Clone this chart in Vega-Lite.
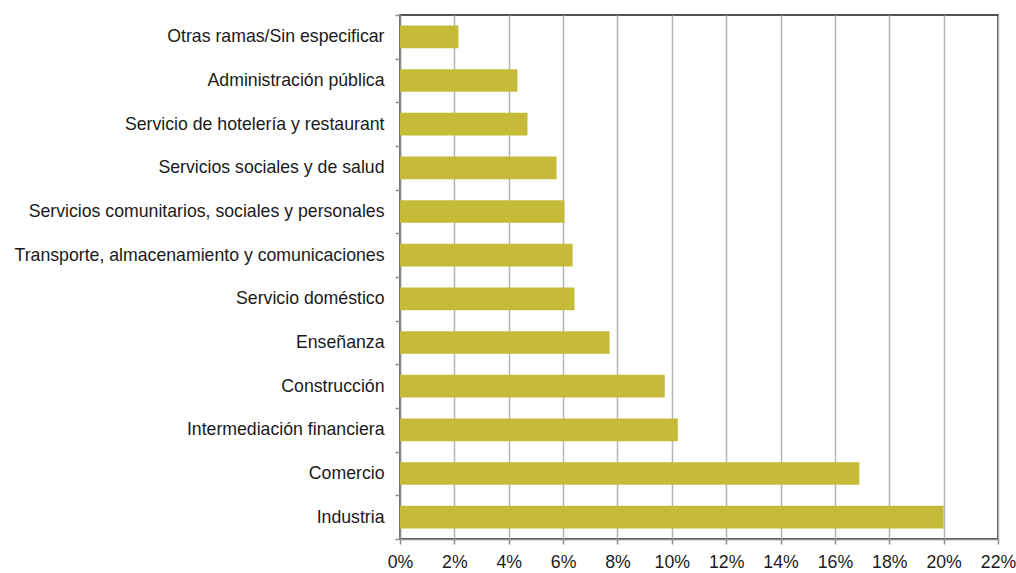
{
  "$schema": "https://vega.github.io/schema/vega-lite/v6.json",
  "width": 598,
  "height": 524,
  "autosize": {"type": "none"},
  "padding": {"left": 400, "top": 15, "right": 18, "bottom": 34},
  "background": "white",
  "config": {
    "view": {"stroke": "#1a1a1a", "strokeWidth": 1.5},
    "font": "Liberation Sans"
  },
  "data": {
    "values": [
      {"rama": "Otras ramas/Sin especificar\u00a0", "valor": 0.0215},
      {"rama": "Administración pública", "valor": 0.0432},
      {"rama": "Servicio de hotelería y restaurant\u00a0", "valor": 0.0469},
      {"rama": "Servicios sociales y de salud\u00a0", "valor": 0.0576},
      {"rama": "Servicios comunitarios, sociales y personales\u00a0\u00a0", "valor": 0.0605},
      {"rama": "Transporte, almacenamiento y comunicaciones\u00a0", "valor": 0.0635},
      {"rama": "Servicio doméstico", "valor": 0.0642},
      {"rama": "Enseñanza", "valor": 0.0771},
      {"rama": "Construcción", "valor": 0.0974},
      {"rama": "Intermediación financiera", "valor": 0.1022},
      {"rama": "Comercio", "valor": 0.169},
      {"rama": "Industria", "valor": 0.2}
    ]
  },
  "mark": {"type": "bar", "color": "#c5bb38", "height": {"band": 0.52}},
  "encoding": {
    "y": {
      "field": "rama",
      "type": "nominal",
      "sort": null,
      "scale": {"paddingInner": 0, "paddingOuter": 0},
      "axis": {
        "title": null,
        "tickBand": "extent",
        "domainColor": "#8c8c8c",
        "domainWidth": 1.5,
        "tickColor": "#8c8c8c",
        "tickWidth": 1.5,
        "tickSize": 5,
        "labelFontSize": 17.7,
        "labelColor": "#1a1a1a",
        "labelPadding": 11,
        "labelLimit": 400,
        "grid": false
      }
    },
    "x": {
      "field": "valor",
      "type": "quantitative",
      "scale": {"domain": [0, 0.22], "nice": false},
      "axis": {
        "title": null,
        "format": ".0%",
        "values": [0, 0.02, 0.04, 0.06, 0.08, 0.1, 0.12, 0.14, 0.16, 0.18, 0.2, 0.22],
        "grid": true,
        "gridColor": "#b5b5b5",
        "gridWidth": 1.5,
        "domainColor": "#8c8c8c",
        "domainWidth": 1.5,
        "tickColor": "#8c8c8c",
        "tickWidth": 1.5,
        "tickSize": 5,
        "labelFontSize": 17.7,
        "labelColor": "#1a1a1a",
        "labelPadding": 9,
        "labelFlush": false
      }
    }
  }
}
